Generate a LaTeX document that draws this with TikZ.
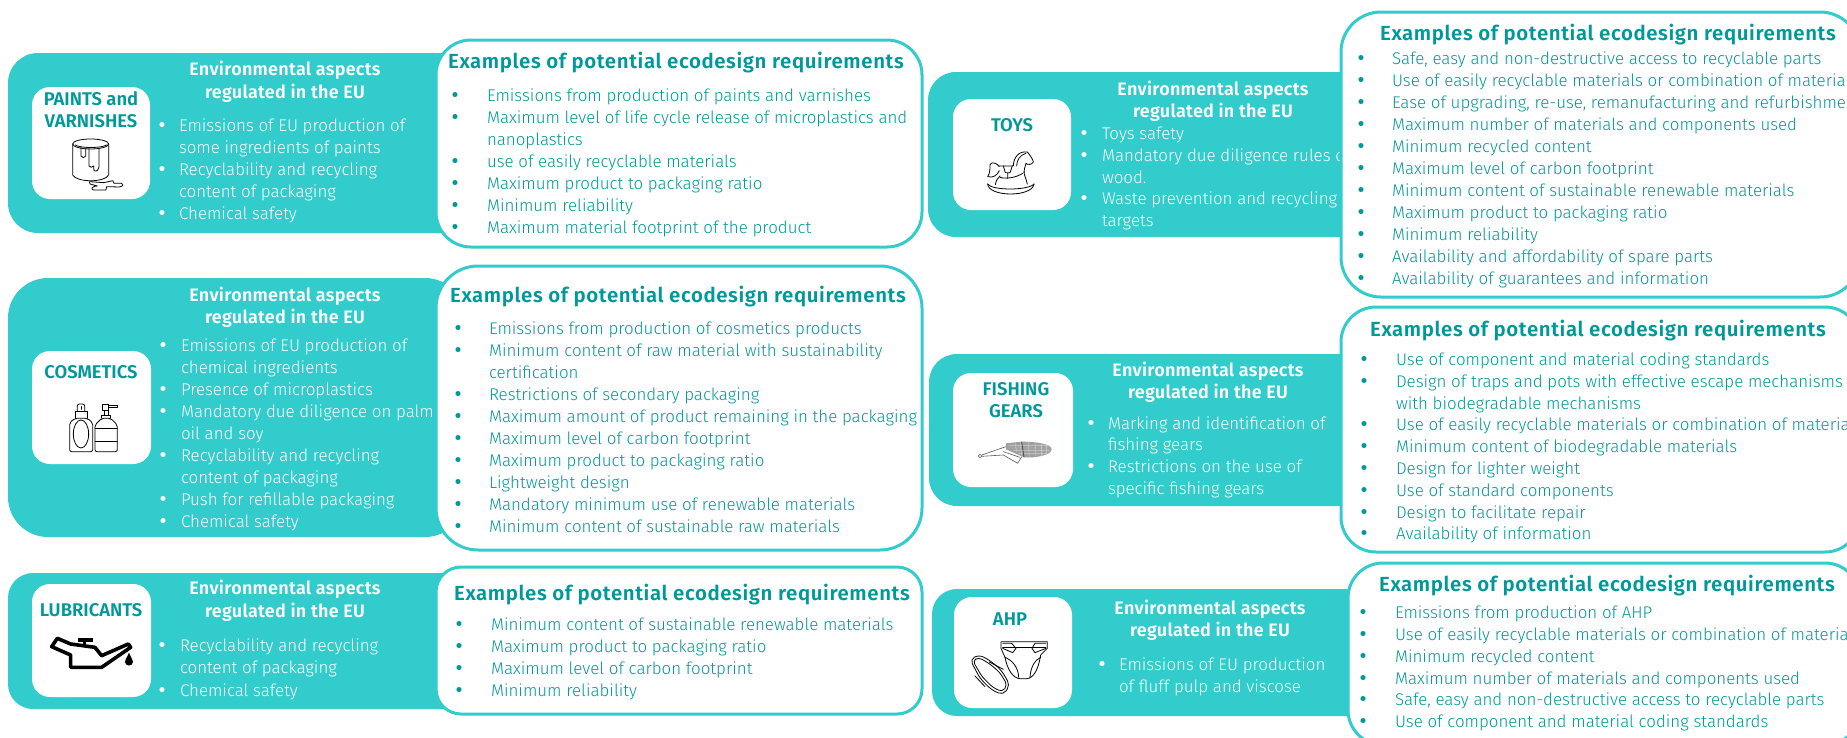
\documentclass[tikz,border=0pt]{standalone}
\usepackage{fontspec}
\setmainfont{Fira Sans Light}[BoldFont={Fira Sans SemiBold}]
\definecolor{panelc}{HTML}{33CCCC}
\definecolor{tealc}{HTML}{009999}
\newcommand\bodyfont{\fontsize{16.9}{22}\selectfont}
\newcommand\bulfont{\fontsize{19}{22}\selectfont\bfseries}
\newcommand\headfont{\fontsize{18}{22}\selectfont\bfseries\addfontfeature{LetterSpace=1.5}}
\newcommand\cardfont{\fontsize{18.4}{22}\selectfont\bfseries}
\newcommand\boxhead{\fontsize{20.4}{24}\selectfont\bfseries\addfontfeature{LetterSpace=3}}
\tikzset{
  panel/.style={fill=panelc,draw=none},
  whitecard/.style={fill=white,draw=none,rounded corners=18pt},
  reqbox/.style={fill=white,draw=panelc,line width=3pt},
  txt/.style={inner sep=0pt,outer sep=0pt,anchor=base west,font=\bodyfont},
  wbody/.style={txt,text=white},
  tbody/.style={txt,text=tealc},
  wbul/.style={inner sep=0pt,anchor=base,font=\bulfont,text=white},
  tbul/.style={inner sep=0pt,anchor=base,font=\bulfont,text=tealc},
  whead/.style={inner sep=0pt,anchor=base,font=\headfont,text=white},
  chead/.style={inner sep=0pt,anchor=base,font=\cardfont,text=tealc},
  thead/.style={inner sep=0pt,anchor=base west,font=\boxhead,text=tealc},
  icon/.style={draw=black,line width=0.8pt,line join=round,line cap=round,fill=none},
}
\newcommand\wi[3]{\node[wbul] (#1b) at (\xb,#2) {•};\node[wbody] (#1) at (\xt,#2) {#3};}
\newcommand\wc[3]{\node[wbody] (#1) at (\xt,#2) {#3};}
\newcommand\ti[3]{\node[tbul] (#1b) at (\xb,#2) {•};\node[tbody] (#1) at (\xt,#2) {#3};}
\newcommand\tc[3]{\node[tbody] (#1) at (\xt,#2) {#3};}
\begin{document}
\begin{tikzpicture}[x=1pt,y=-1pt]
\useasboundingbox (0,0) rectangle (1847,737);
\clip (0,0) rectangle (1847,737);
\fill[white] (0,0) rectangle (1847,737);

% ---------- PAINTS
\draw[panel,rounded corners=30pt] (8,53) rectangle (470,233);
\draw[whitecard] (32,87) rectangle (150,199);
\node[chead] (pc1) at (91,105) {PAINTS and};
\node[chead] (pc2) at (91,127) {VARNISHES};
\node[whead] (ph1) at (285,75) {Environmental aspects};
\node[whead] (ph2) at (285,98) {regulated in the EU};
\def\xb{162}\def\xt{179}
\wi{pw1}{131}{Emissions of EU production of}
\wc{pw2}{153}{some ingredients of paints}
\wi{pw3}{175}{Recyclability and recycling}
\wc{pw4}{197}{content of packaging}
\wi{pw5}{219}{Chemical safety}
\begin{scope}[shift={(0,30)},x=.3333pt,y=-.3333pt]
 \draw[icon] (218,342) -- (218,435) .. controls (230,458) and (315,458) .. (326,435) -- (326,342);
 \draw[icon] (272,342) ellipse [x radius=54,y radius=15];
 \draw[icon] (226,345) .. controls (240,355) and (305,355) .. (320,345);
 \draw[icon] (243,352) -- (243,378) .. controls (245,385) and (255,385) .. (257,378) -- (257,355);
 \draw[icon] (267,355) -- (267,408) .. controls (270,416) and (278,410) .. (281,408) -- (282,422) .. controls (290,426) and (296,420) .. (297,412) -- (297,355);
 \draw[icon] (268,455) -- (312,458) -- (338,452) -- (342,460) -- (365,460) .. controls (372,466) and (365,472) .. (358,471) -- (320,470) -- (318,480) -- (280,480) .. controls (270,476) and (278,468) .. (292,468) -- (270,462) -- cycle;
\end{scope}

% ---------- COSMETICS
\draw[panel,rounded corners=40pt] (8,278) rectangle (465,537);
\draw[whitecard] (32,351) rectangle (151,464);
\node[chead] (cc1) at (91,378) {COSMETICS};
\node[whead] (ch1) at (285,301) {Environmental aspects};
\node[whead] (ch2) at (285,323) {regulated in the EU};
\def\xb{163}\def\xt{181}
\wi{cw1}{351}{Emissions of EU production of}
\wc{cw2}{373}{chemical ingredients}
\wi{cw3}{395}{Presence of microplastics}
\wi{cw4}{417}{Mandatory due diligence on palm}
\wc{cw5}{439}{oil and soy}
\wi{cw6}{461}{Recyclability and recycling}
\wc{cw7}{483}{content of packaging}
\wi{cw8}{505}{Push for refillable packaging}
\wi{cw9}{527}{Chemical safety}
\begin{scope}[shift={(0,270)},x=.3333pt,y=-.3333pt]
 \draw[icon,rounded corners=2pt] (209,458) -- (225,445) -- (262,445) -- (278,458) -- (278,545) -- (209,545) -- cycle;
 \draw[icon] (243,492) ellipse [x radius=23,y radius=42];
 \draw[icon] (225,445) -- (225,425) -- (262,425) -- (262,445);
 \draw[icon,rounded corners=2pt] (232,425) -- (232,402) -- (254,402) -- (254,425);
 \draw[icon] (243,410) -- (243,418);
 \draw[icon,rounded corners=2pt] (285,465) -- (305,445) -- (332,445) -- (352,465) -- (352,545) -- (285,545) -- cycle;
 \draw[icon] (285,475) -- (352,475) (285,515) -- (352,515);
 \draw[icon] (305,445) -- (305,435) -- (332,435) -- (332,445);
 \draw[icon] (312,435) -- (312,420) -- (325,420) -- (325,435);
 \draw[icon] (308,402) -- (326,402) -- (326,420) -- (308,420) -- cycle;
 \draw[icon] (326,405) -- (352,405) -- (352,413) -- (326,413);
\end{scope}

% ---------- LUBRICANTS
\draw[panel,rounded corners=25pt] (8,573) rectangle (470,709);
\draw[whitecard] (32,584) rectangle (151,697);
\node[chead] (lc1) at (91,616) {LUBRICANTS};
\node[whead] (lh1) at (285,594) {Environmental aspects};
\node[whead] (lh2) at (285,617) {regulated in the EU};
\def\xb{162}\def\xt{180}
\wi{lw1}{651}{Recyclability and recycling}
\wc{lw2}{673}{content of packaging}
\wi{lw3}{696}{Chemical safety}
\begin{scope}[shift={(0,560)},x=.3333pt,y=-.3333pt]
 \draw[black,line width=3.6pt,line join=round,fill=none] (155,260) -- (172,235) -- (212,252) -- (285,262) -- (305,287) -- (385,252) -- (392,262) -- (305,322) -- (212,322) -- (212,285) -- cycle;
 \draw[black,line width=3pt] (255,240) -- (255,258);
 \draw[black,line width=3.6pt] (235,240) -- (278,240);
 \fill[black] (387,278) .. controls (380,295) and (374,300) .. (375,306) .. controls (376,320) and (398,320) .. (399,306) .. controls (400,300) and (394,295) .. (387,278) -- cycle;
\end{scope}

% ---------- TOYS
\draw[panel,rounded corners=28pt] (928,72) rectangle (1365,237);
\draw[whitecard] (953,99) rectangle (1071,210);
\node[chead] (tc1) at (1012,131) {TOYS};
\node[whead] (th1) at (1213,95) {Environmental aspects};
\node[whead] (th2) at (1213,117) {regulated in the EU};
\def\xb{1084}\def\xt{1102}
\wi{tw1}{139}{Toys safety}
\wi{tw2}{161}{Mandatory due diligence rules on}
\wc{tw3}{183}{wood.}
\wi{tw4}{204}{Waste prevention and recycling}
\wc{tw5}{226}{targets}
\begin{scope}[shift={(920,60)},x=.3333pt,y=-.3333pt]
 \draw[icon] (203,372) .. controls (215,392) and (325,392) .. (342,372);
 \draw[icon] (203,372) .. controls (205,412) and (338,412) .. (342,372);
 \draw[icon] (226,374) .. controls (228,360) and (234,355) .. (240,348);
 \draw[icon] (240,352) .. controls (260,358) and (290,352) .. (308,340);
 \draw[icon] (322,372) .. controls (318,355) and (312,345) .. (312,335);
 \draw[icon] (238,318) -- (280,318) .. controls (280,295) and (295,272) .. (322,276) .. controls (330,285) and (340,300) .. (340,306) .. controls (335,315) and (322,315) .. (318,310) .. controls (315,320) and (312,330) .. (312,338);
 \draw[icon] (290,318) .. controls (290,300) and (300,285) .. (318,280);
 \draw[icon] (250,318) -- (256,338) -- (270,338) -- (277,318) (263,338) -- (263,356);
 \draw[icon] (238,320) .. controls (222,300) and (205,308) .. (210,325) .. controls (208,338) and (208,345) .. (203,350) .. controls (220,355) and (232,345) .. (238,332);
\end{scope}

% ---------- FISHING
\draw[panel,rounded corners=28pt] (929,354) rectangle (1365,506);
\draw[whitecard] (953,373) rectangle (1073,487);
\node[chead] (fc1) at (1016,395) {FISHING};
\node[chead] (fc2) at (1016,417) {GEARS};
\node[whead] (fh1) at (1208,376) {Environmental aspects};
\node[whead] (fh2) at (1208,398) {regulated in the EU};
\def\xb{1091}\def\xt{1108}
\wi{fw1}{429}{Marking and identification of}
\wc{fw2}{450}{fishing gears}
\wi{fw3}{472}{Restrictions on the use of}
\wc{fw4}{494}{specific fishing gears}
\begin{scope}[shift={(920,340)},x=.3333pt,y=-.3333pt]
 \draw[gray!70!black,line width=.5pt] (180,348) circle [radius=5];
 \draw[gray!70!black,line width=.6pt] (185,345) -- (258,320) (185,349) -- (250,345) -- (293,370) -- (305,350) (250,335) -- (300,352);
 \fill[gray!75] (258,310) -- (305,305) .. controls (350,305) and (395,312) .. (395,328) .. controls (395,345) and (345,355) .. (312,352) -- (258,328) -- cycle;
 \draw[gray!35,line width=.35pt] (265,316) -- (385,316) (265,324) -- (392,324) (280,332) -- (390,332) (295,340) -- (380,340) (285,308) -- (290,335) (300,306) -- (305,345) (325,306) -- (328,352) (345,308) -- (348,350) (365,312) -- (365,348) (380,316) -- (380,342);
 \draw[black!70,line width=.8pt] (305,305) -- (312,352);
\end{scope}

% ---------- AHP
\draw[panel,rounded corners=25pt] (932,589) rectangle (1370,716);
\draw[whitecard] (954,597) rectangle (1072,708);
\node[chead] (ac1) at (1010,625) {AHP};
\node[whead] (ah1) at (1210,614) {Environmental aspects};
\node[whead] (ah2) at (1210,636) {regulated in the EU};
\def\xb{1102}\def\xt{1119}
\wi{aw1}{670}{Emissions of EU production}
\wc{aw2}{692}{of fluff pulp and viscose}
\begin{scope}[shift={(920,570)},x=.3333pt,y=-.3333pt]
 \draw[icon] (243,215) -- (382,215) -- (382,235) -- (362,255) .. controls (355,300) and (340,325) .. (320,326) -- (300,326) .. controls (280,325) and (262,300) .. (255,262) -- (243,235) -- cycle;
 \draw[icon] (248,232) -- (378,232);
 \draw[icon] (248,220) -- (275,220) -- (288,235) -- (278,248) -- (248,235);
 \draw[icon] (378,220) -- (345,220) -- (336,235) -- (345,248) -- (378,235);
 \draw[icon] (255,262) .. controls (275,270) and (295,290) .. (296,322);
 \draw[icon] (362,262) .. controls (345,270) and (332,290) .. (330,322);
 \draw[icon,rounded corners=5pt] (150,268) -- (178,254) -- (215,275) -- (245,302) -- (270,345) -- (250,375) -- (215,360) -- (180,325) -- cycle;
 \draw[icon,rounded corners=4pt] (158,272) -- (176,262) -- (210,282) -- (240,308) -- (262,345) -- (247,366) -- (218,352) -- (186,320) -- cycle;
 \draw[icon] (208,276) -- (250,298) (165,318) -- (195,350);
\end{scope}

% ---------- Requirement boxes
\draw[reqbox,rounded corners=35pt] (436,40) rectangle (922,247);
\node[thead] (r1h) at (448,68) {Examples of potential ecodesign requirements};
\def\xb{455}\def\xt{487}
\ti{r1a}{101}{Emissions from production of paints and varnishes}
\ti{r1b}{123}{Maximum level of life cycle release of microplastics and}
\tc{r1c}{145}{nanoplastics}
\ti{r1d}{167}{use of easily recyclable materials}
\ti{r1e}{189}{Maximum product to packaging ratio}
\ti{r1f}{211}{Minimum reliability}
\ti{r1g}{233}{Maximum material footprint of the product}

\draw[reqbox,rounded corners=42pt] (436,266) rectangle (922,550);
\node[thead] (r2h) at (450,302) {Examples of potential ecodesign requirements};
\def\xb{458}\def\xt{489}
\ti{r2a}{334}{Emissions from production of cosmetics products}
\ti{r2b}{356}{Minimum content of raw material with sustainability}
\tc{r2c}{378}{certification}
\ti{r2d}{400}{Restrictions of secondary packaging}
\ti{r2e}{422}{Maximum amount of product remaining in the packaging}
\ti{r2f}{444}{Maximum level of carbon footprint}
\ti{r2g}{466}{Maximum product to packaging ratio}
\ti{r2h}{488}{Lightweight design}
\ti{r2i}{510}{Mandatory minimum use of renewable materials}
\ti{r2j}{532}{Minimum content of sustainable raw materials}

\draw[reqbox,rounded corners=25pt] (436,567) rectangle (922,714);
\node[thead] (r3h) at (454,600) {Examples of potential ecodesign requirements};
\def\xb{459}\def\xt{491}
\ti{r3a}{630}{Minimum content of sustainable renewable materials}
\ti{r3b}{652}{Maximum product to packaging ratio}
\ti{r3c}{674}{Maximum level of carbon footprint}
\ti{r3d}{696}{Minimum reliability}

\draw[reqbox,rounded corners=40pt] (1341,12) rectangle (1860,297);
\node[thead] (r4h) at (1380,40) {Examples of potential ecodesign requirements};
\def\xb{1361}\def\xt{1392}
\ti{r4a}{64}{Safe, easy and non-destructive access to recyclable parts}
\ti{r4b}{86}{Use of easily recyclable materials or combination of materials}
\ti{r4c}{108}{Ease of upgrading, re-use, remanufacturing and refurbishment}
\ti{r4d}{130}{Maximum number of materials and components used}
\ti{r4e}{152}{Minimum recycled content}
\ti{r4f}{174}{Maximum level of carbon footprint}
\ti{r4g}{196}{Minimum content of sustainable renewable materials}
\ti{r4h}{218}{Maximum product to packaging ratio}
\ti{r4i}{240}{Minimum reliability}
\ti{r4j}{262}{Availability and affordability of spare parts}
\ti{r4k}{284}{Availability of guarantees and information}

\draw[reqbox,rounded corners=35pt] (1341,307) rectangle (1860,552);
\node[thead] (r5h) at (1370,336) {Examples of potential ecodesign requirements};
\def\xb{1364}\def\xt{1396}
\ti{r5a}{365}{Use of component and material coding standards}
\ti{r5b}{387}{Design of traps and pots with effective escape mechanisms}
\tc{r5c}{409}{with biodegradable mechanisms}
\ti{r5d}{430}{Use of easily recyclable materials or combination of materials}
\ti{r5e}{452}{Minimum content of biodegradable materials}
\ti{r5f}{474}{Design for lighter weight}
\ti{r5g}{496}{Use of standard components}
\ti{r5h}{518}{Design to facilitate repair}
\ti{r5i}{539}{Availability of information}

\draw[reqbox,rounded corners=35pt] (1348,563) rectangle (1860,745);
\node[thead] (r6h) at (1379,591) {Examples of potential ecodesign requirements};
\def\xb{1363}\def\xt{1395}
\ti{r6a}{618}{Emissions from production of AHP}
\ti{r6b}{640}{Use of easily recyclable materials or combination of materials}
\ti{r6c}{662}{Minimum recycled content}
\ti{r6d}{684}{Maximum number of materials and components used}
\ti{r6e}{705}{Safe, easy and non-destructive access to recyclable parts}
\ti{r6f}{727}{Use of component and material coding standards}
\end{tikzpicture}
\end{document}
